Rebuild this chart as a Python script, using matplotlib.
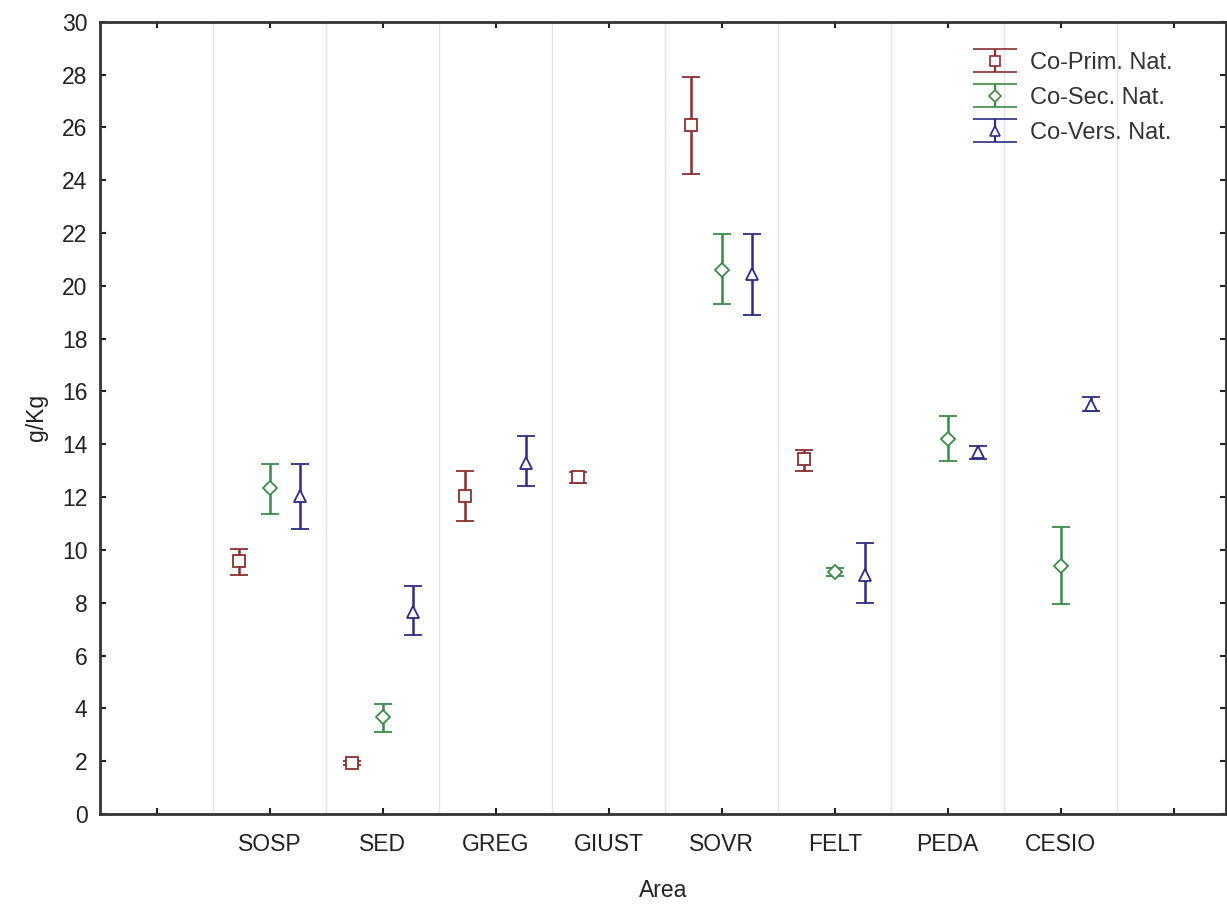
import numpy as np
import matplotlib
matplotlib.use("Agg")
import matplotlib.pyplot as plt
from matplotlib.ticker import FixedLocator
from matplotlib.legend_handler import HandlerErrorbar

plt.rcParams['font.family'] = ['Liberation Sans', 'DejaVu Sans']

# Categories (first and last tick positions are empty)
tick_labels = ['', 'SOSP', 'SED', 'GREG', 'GIUST', 'SOVR', 'FELT', 'PEDA', 'CESIO', '']
areas = ['SOSP', 'SED', 'GREG', 'GIUST', 'SOVR', 'FELT', 'PEDA', 'CESIO']

nan = np.nan
# Means
prim_mean = [9.57, 1.92, 12.03, 12.75, 26.1, 13.45, nan, nan]
sec_mean = [12.35, 3.67, nan, nan, 20.6, 9.15, 14.2, 9.4]
vers_mean = [12.05, 7.65, 13.3, nan, 20.45, 9.05, 13.7, 15.5]
# Lower / upper bounds of the error bars
prim_low = [9.07, 1.85, 11.08, 12.55, 24.25, 13.0, nan, nan]
prim_high = [10.05, 2.0, 12.98, 12.95, 27.9, 13.8, nan, nan]
sec_low = [11.38, 3.12, nan, nan, 19.32, 9.0, 13.35, 7.97]
sec_high = [13.27, 4.15, nan, nan, 21.95, 9.3, 15.08, 10.85]
vers_low = [10.8, 6.78, 12.43, nan, 18.88, 7.98, 13.45, 15.28]
vers_high = [13.27, 8.62, 14.3, nan, 21.98, 10.25, 13.95, 15.78]

series_names = ['Co-Prim. Nat.', 'Co-Sec. Nat.', 'Co-Vers. Nat.']
series = [
    (prim_mean, prim_low, prim_high, '#8a2f2f', 's', -0.27),
    (sec_mean, sec_low, sec_high, '#3b8b47', 'D', 0.0),
    (vers_mean, vers_low, vers_high, '#2c2c80', '^', 0.27),
]

fig = plt.figure(figsize=(12.27, 9.08), dpi=100)
ax = fig.add_axes([0.0815, 0.1035, 0.9175, 0.8725])

x = np.arange(1, len(areas) + 1)
handles = []
for name, (m, lo, hi, col, mk, off) in zip(series_names, series):
    m = np.array(m, dtype=float)
    lo = np.array(lo, dtype=float)
    hi = np.array(hi, dtype=float)
    yerr = np.vstack([m - lo, hi - m])
    ms = 7 if mk == 'D' else 8.5
    ax.errorbar(x + off, m, yerr=yerr, fmt=mk, color=col, ecolor=col,
                mfc='white', mec=col, mew=1.3, ms=ms, elinewidth=1.8,
                capsize=6.5, capthick=1.8, zorder=3)
    # legend proxy with wider caps (nothing drawn on the axes)
    h = ax.errorbar([nan], [nan], yerr=[[nan], [nan]], fmt=mk, color=col, ecolor=col,
                    mfc='white', mec=col, mew=1.2, ms=7.5 if mk != 'D' else 6.5,
                    elinewidth=1.6, capsize=16, capthick=2.0, label=name)
    handles.append(h)

ax.set_xlim(-0.5, 9.46)
ax.set_ylim(0, 30)
ax.set_xticks(np.arange(len(tick_labels)))
ax.set_xticklabels(tick_labels)
ax.set_yticks(np.arange(0, 31, 2))
ax.xaxis.set_minor_locator(FixedLocator(np.arange(0.5, 9, 1.0)))
ax.grid(which='minor', axis='x', color='#e4e4e4', linewidth=1.0)
ax.tick_params(which='minor', length=0)
ax.tick_params(which='major', direction='in', length=4, width=1.5, color='#222222',
               top=True, right=True, labelsize=16.5, labelcolor='#222222')
ax.tick_params(axis='x', pad=14)
ax.tick_params(axis='y', pad=9)
for s in ax.spines.values():
    s.set_linewidth(2)
    s.set_color('#333333')

ax.set_xlabel('Area', fontsize=16.5, color='#222222', labelpad=16)
ax.set_ylabel('g/Kg', fontsize=16.5, color='#222222', labelpad=10)

leg = ax.legend(handles=handles, labels=series_names, loc='upper left',
                bbox_to_anchor=(0.7744, 0.962), borderaxespad=0, borderpad=0,
                frameon=False, fontsize=17, handlelength=2.0, handletextpad=0.46,
                labelspacing=0.55,
                handler_map={type(handles[0]): HandlerErrorbar(xerr_size=0.5, yerr_size=0.5)})
for t in leg.get_texts():
    t.set_color('#333333')

fig.savefig('out.png', dpi=100)
